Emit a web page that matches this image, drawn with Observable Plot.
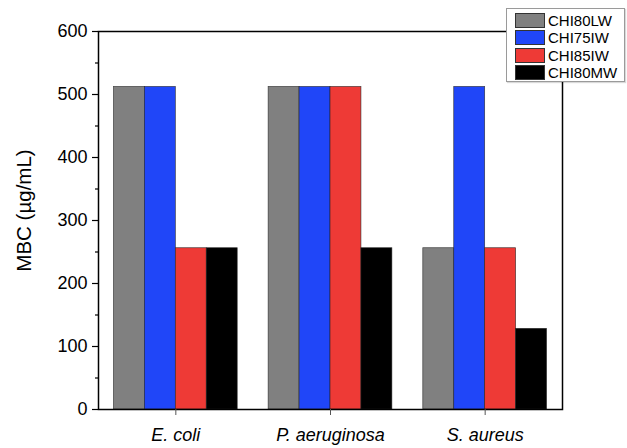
<!DOCTYPE html>
<html>
<head>
<meta charset="utf-8">
<script src="https://cdn.jsdelivr.net/npm/d3@7"></script>
<script src="https://cdn.jsdelivr.net/npm/@observablehq/plot@0.6"></script>
<style>
  html, body { margin: 0; padding: 0; background: #fff; }
  #wrap { position: relative; width: 627px; height: 448px; font-family: "Liberation Sans", Arial, Helvetica, sans-serif; }
  #legend { position: absolute; left: 506px; top: 8px; width: 119px; height: 74px; background: #fff; border: 1px solid #9a9a9a; box-shadow: 1px 1px 1px rgba(0,0,0,0.15); box-sizing: border-box; padding-top: 3px; }
  .row { display: flex; align-items: center; height: 17.3px; margin-left: 8px; }
  .sw { width: 30px; height: 15px; border: 1px solid #333; box-sizing: border-box; margin-right: 3px; }
  .lb { font-size: 15px; color: #000; line-height: 1; }
</style>
</head>
<body>
<div id="wrap"></div>
<script>
const groups = ["E. coli", "P. aeruginosa", "S. aureus"];
const series = ["CHI80LW", "CHI75IW", "CHI85IW", "CHI80MW"];
const colors = ["#808080", "#2046f8", "#ee3a36", "#000000"];
const chi80lw = [512, 512, 256];
const chi75iw = [512, 512, 512];
const chi85iw = [256, 512, 256];
const chi80mw = [256, 256, 128];
const yTicks = [0, 100, 200, 300, 400, 500, 600];
const yLabel = "MBC (µg/mL)";

const values = [chi80lw, chi75iw, chi85iw, chi80mw];
const groupPad = 0.1;
const barW = (1 - 2 * groupPad) / series.length;
const data = [];
groups.forEach((g, i) => {
  series.forEach((s, j) => {
    const x1 = i + groupPad + j * barW;
    data.push({group: g, series: s, value: values[j][i], x1, x2: x1 + barW});
  });
});

const chart = Plot.plot({
  width: 627,
  height: 448,
  marginLeft: 98,
  marginRight: 65,
  marginTop: 31,
  marginBottom: 39,
  style: {fontFamily: '"Liberation Sans", Arial, Helvetica, sans-serif', fontSize: "18px", color: "#000", background: "#fff"},
  x: {domain: [0, groups.length], label: null},
  y: {domain: [0, 600], label: null},
  color: {domain: series, range: colors},
  marks: [
    Plot.rect(data, {x1: "x1", x2: "x2", y1: 0, y2: "value", fill: "series", stroke: "#222", strokeWidth: 0.7, strokeOpacity: 0.8}),
    Plot.frame({stroke: "#000", strokeWidth: 1.5}),
    Plot.axisY(yTicks, {tickSize: 6, tickPadding: 5, label: null, strokeWidth: 1.2}),
    Plot.axisY(d3.range(50, 600, 100), {tickSize: 3, tickFormat: () => "", label: null, strokeWidth: 1.2}),
    Plot.axisX(groups.map((g, i) => i + 0.5), {tickSize: 6, tickPadding: 13, tickFormat: d => groups[Math.floor(d)], fontStyle: "italic", label: null, stroke: "#555"}),
    Plot.text([yLabel], {frameAnchor: "left", textAnchor: "middle", lineAnchor: "middle", text: d => d, rotate: -90, dx: -74, dy: -10, fontSize: 20.5, fill: "#000"})
  ]
});

const wrap = document.getElementById("wrap");
wrap.appendChild(chart);

const legend = document.createElement("div");
legend.id = "legend";
series.forEach((s, i) => {
  const row = document.createElement("div");
  row.className = "row";
  const sw = document.createElement("div");
  sw.className = "sw";
  sw.style.background = colors[i];
  const lb = document.createElement("span");
  lb.className = "lb";
  lb.textContent = s;
  row.appendChild(sw);
  row.appendChild(lb);
  legend.appendChild(row);
});
wrap.appendChild(legend);
</script>
</body>
</html>
